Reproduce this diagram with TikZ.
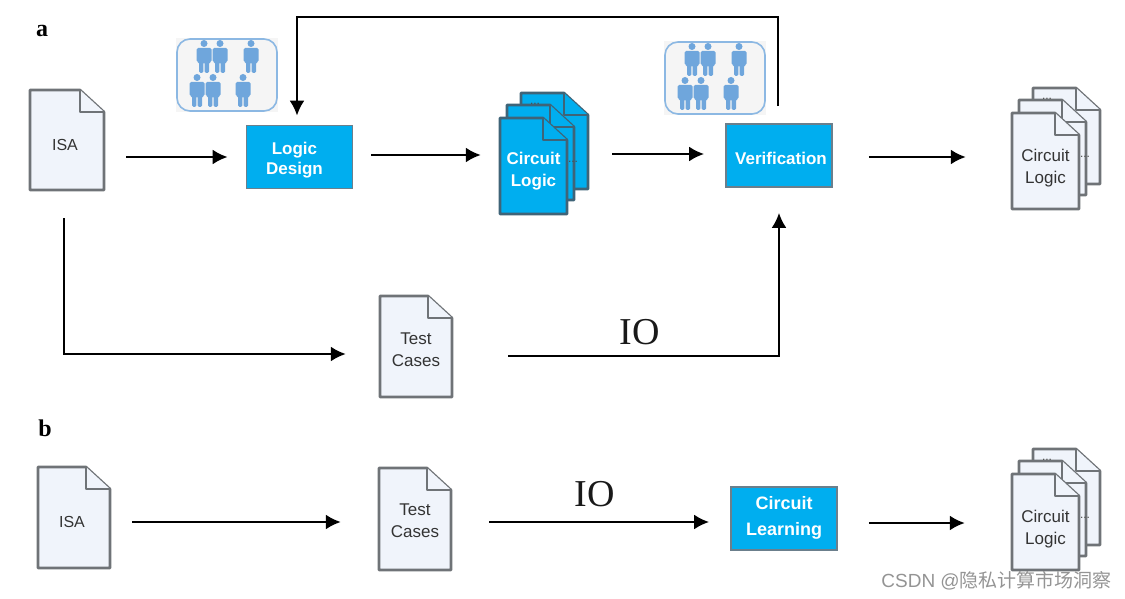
\documentclass[tikz,border=0pt]{standalone}
\usepackage{fontspec}
\setmainfont{Liberation Serif}
\setsansfont{Liberation Sans}
\newfontfamily\cjkfont{Noto Sans CJK SC}
\usetikzlibrary{arrows.meta}
\definecolor{boxblue}{HTML}{00AEEF}
\definecolor{boxedge}{HTML}{6B7F8C}
\definecolor{stackedge}{HTML}{3F6478}
\definecolor{pagefill}{HTML}{F0F4FB}
\definecolor{pageedge}{HTML}{6F7377}
\definecolor{peopleblue}{HTML}{6FA6DC}
\newcommand{\docpage}[6]{% x, y, w, h, page style, name
	\draw[#5] (#1,#2) -- ++(#3-24,0) -- ++(24,22) -- ++(0,#4-22) -- ++(-#3,0) -- cycle;
	\draw[#5] (#1+#3-24,#2) -- ++(0,22) -- ++(24,0);
	\coordinate (#6) at (#1+#3/2,#2+#4/2);
}
\newcommand{\docstack}[6]{% x, y, page style, text style, name, text
	\docpage{#1+21}{#2-25}{67}{96}{#3}{#5back}
	\docpage{#1+7}{#2-13}{67}{95}{#3}{#5mid}
	\node[dots] (#5dotsa) at (#1+35,#2-14) {...};
	\node[dots] (#5dotsb) at (#1+73,#2+44) {...};
	\docpage{#1}{#2}{67}{96}{#3}{#5front}
	\node[#4,minimum width=67pt,minimum height=88pt] (#5) at (#1+33.5,#2+52) {#6};
}
\newcommand{\peoplegroup}[3]{% x, y, name
	\fill[black!4] (#1,#2) rectangle ++(102,74);
	\draw[peopleblue!80,line width=1.6pt,rounded corners=13pt] (#1+1,#2+1) rectangle ++(100,72);
	\pic at (#1+28,#2+2) {person};
	\pic at (#1+44,#2+2) {person};
	\pic at (#1+75,#2+2) {person};
	\pic at (#1+21,#2+36) {person};
	\pic at (#1+37,#2+36) {person};
	\pic at (#1+67,#2+36) {person};
	\coordinate (#3) at (#1+51,#2+37);
}
\begin{document}
\begin{tikzpicture}
	[x=1pt,y=-1pt,>={Latex[length=15pt,width=15pt]},
	flow/.style={->,black,line width=2.3pt},
	blue box/.style={rectangle,draw=boxedge,line width=1.8pt,fill=boxblue,minimum width=106pt,minimum height=63pt},
	box text/.style={text=white,font=\sffamily\bfseries\fontsize{17}{20}\selectfont,align=center},
	plain page/.style={draw=pageedge,fill=pagefill,line width=2.6pt,line join=round},
	blue page/.style={draw=stackedge,fill=boxblue,line width=2.6pt,line join=round},
	plain text/.style={text=black!80,font=\sffamily\fontsize{17}{22}\selectfont,align=center},
	blue text/.style={text=white,font=\sffamily\bfseries\fontsize{17}{22}\selectfont,align=center},
	dots/.style={inner sep=0pt,text=black!70,font=\sffamily\fontsize{12}{12}\selectfont},
	io/.style={font=\fontsize{38}{38}\selectfont,text=black!90},
	panel/.style={font=\bfseries\fontsize{24}{24}\selectfont},
	person/.pic={
		\fill[peopleblue] (0,3.5) circle (3.5);
		\fill[peopleblue,rounded corners=1.5pt] (-7.5,8) -- (7.5,8) -- (7.5,22) -- (5,22) -- (5,33) -- (0.6,33) -- (0.6,22) -- (-0.6,22) -- (-0.6,33) -- (-5,33) -- (-5,22) -- (-7.5,22) -- cycle;
	}]
	\useasboundingbox (0,0) rectangle (1125,599);

	\node[panel] (panela) at (42,31) {a};
	\node[panel] (panelb) at (45,428) {b};

	\docpage{30}{90}{74}{100}{plain page}{isapage}
	\node[plain text,font=\sffamily\fontsize{16}{20}\selectfont,minimum width=74pt,minimum height=90pt] (isa) at (65,145) {ISA};
	\docpage{380}{296}{72}{101}{plain page}{testpage}
	\node[plain text,minimum width=72pt,minimum height=93pt] (test) at (416,349.5) {Test\\Cases};
	\docpage{38}{467}{72}{101}{plain page}{isatwopage}
	\node[plain text,font=\sffamily\fontsize{16}{20}\selectfont,minimum width=72pt,minimum height=91pt] (isatwo) at (72,522) {ISA};
	\docpage{379}{468}{72}{102}{plain page}{testtwopage}
	\node[plain text,minimum width=72pt,minimum height=94pt] (testtwo) at (415,521) {Test\\Cases};

	\node[blue box,label={[box text,xshift=-5pt,yshift=-3.5pt]center:Logic\\Design}] (logic) at (299.5,157) {};
	\node[blue box,label={[box text,xshift=2pt,yshift=-2.5pt]center:Verification}] (verify) at (779,155.5) {};
	\node[blue box,label={[box text,yshift=1pt,font=\sffamily\bfseries\fontsize{18}{26}\selectfont]center:Circuit\\Learning}] (learn) at (784,518.5) {};

	\docstack{500}{118}{blue page}{blue text,yshift=-1pt}{circuit}{Circuit\\Logic}
	\docstack{1012}{113}{plain page}{plain text,yshift=-3pt}{result}{Circuit\\Logic}
	\docstack{1012}{474}{plain page}{plain text,yshift=-3pt}{resulttwo}{Circuit\\Logic}

	\peoplegroup{176}{38}{designers}
	\peoplegroup{664}{41}{verifiers}

	\node[io] (ioa) at (640,332) {IO};
	\node[io] (iob) at (595,494) {IO};

	\draw[flow,shorten <=24pt,shorten >=18pt] (isa.east |- logic.west) -- (logic.west);
	\draw[flow,shorten <=18pt,shorten >=19pt] ([yshift=2pt]logic.east) -- ([yshift=2pt]logic.east -| circuit.west);
	\draw[flow,shorten <=45pt,shorten >=21pt] ([yshift=1.5pt]circuit.east |- verify.west) -- ([yshift=1.5pt]verify.west);
	\draw[flow,shorten <=36pt,shorten >=46pt] ([yshift=-1.5pt]verify.east) -- ([yshift=-1.5pt]verify.east -| result.west);
	\draw[flow,shorten <=17pt,shorten >=9pt] ([xshift=-1pt]verify.north) -- ++(0,-106) -| ([xshift=-2.5pt]logic.north);
	\draw[flow,shorten <=28pt,shorten >=34pt] ([xshift=-1pt]isa.south) |- ([yshift=-4.5pt]test.west);
	\draw[flow,shorten <=56pt,shorten >=25pt] ([yshift=-6.5pt]test.east) -| (verify.south);
	\draw[flow,shorten <=24pt,shorten >=38pt] (isatwo.east) -- (isatwo.east -| testtwo.west);
	\draw[flow,shorten <=38pt,shorten >=21pt] ([yshift=-1pt]testtwo.east) -- ([yshift=-1pt]testtwo.east -| learn.west);
	\draw[flow,shorten <=31pt,shorten >=47pt] ([yshift=-4.5pt]learn.east) -- ([yshift=-4.5pt]learn.east -| resulttwo.west);

	\node[anchor=east,text=black!42,inner sep=0pt,font=\sffamily\fontsize{19}{20}\selectfont] (mark) at (1112,581) {CSDN @{\cjkfont 隐私计算市场洞察}};
\end{tikzpicture}
\end{document}
